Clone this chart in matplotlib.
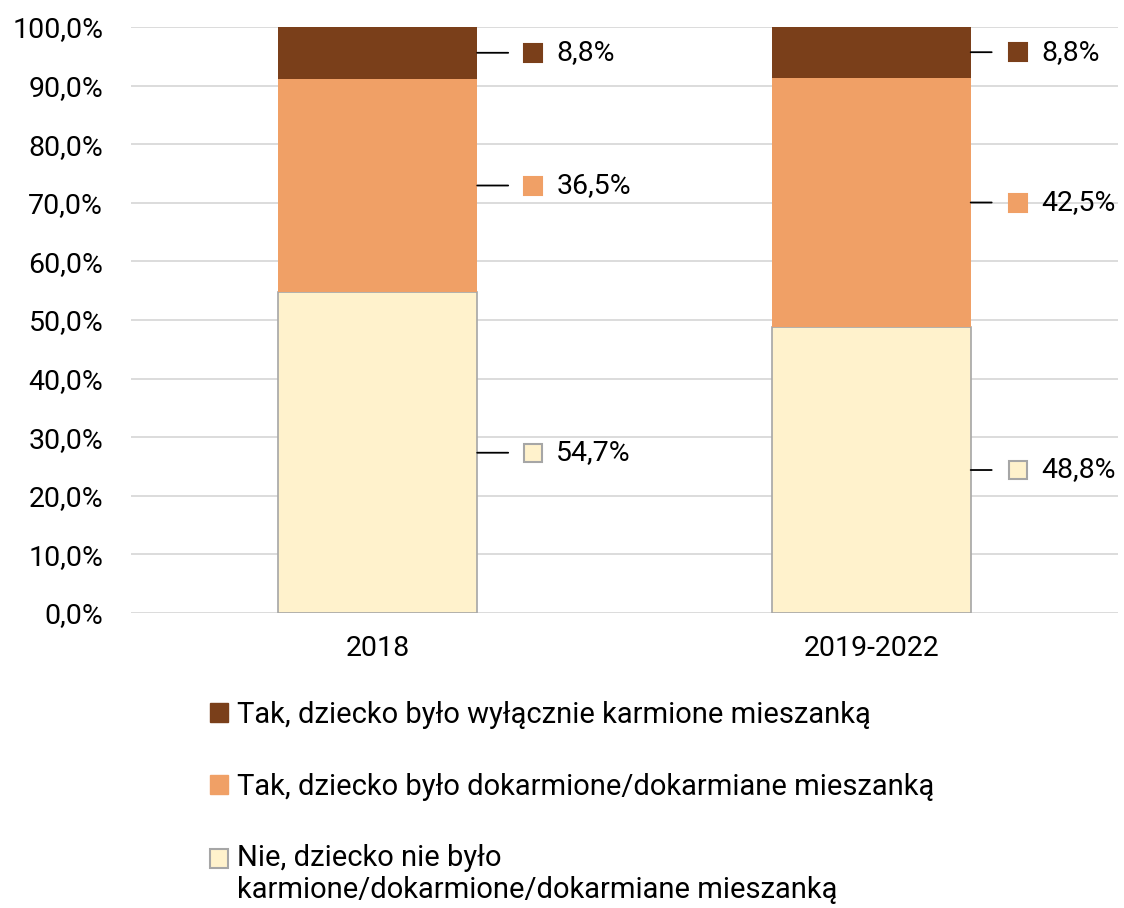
import matplotlib.pyplot as plt
import matplotlib
from matplotlib.patches import Patch
from matplotlib.legend_handler import HandlerPatch
from matplotlib.transforms import offset_copy
import numpy as np

matplotlib.use("Agg")
plt.rcParams['font.family'] = ['Roboto', 'DejaVu Sans']

categories = ["2018", "2019-2022"]
nie = [54.7, 48.8]
dokarmione = [36.5, 42.5]
wylacznie = [8.8, 8.8]

labels = [
    "Tak, dziecko było wyłącznie karmione mieszanką",
    "Tak, dziecko było dokarmione/dokarmiane mieszanką",
    "Nie, dziecko nie było\nkarmione/dokarmione/dokarmiane mieszanką",
]

c_dark = '#7A3F1A'
c_orange = '#F0A066'
c_cream = '#FFF2CC'
c_edge = '#A6A6A6'


class UpHandler(HandlerPatch):
    # moves the key square up so it sits next to the first text line
    def __init__(self, dy, **kw):
        super().__init__(**kw)
        self.dy = dy

    def create_artists(self, legend, orig_handle, xdescent, ydescent,
                       width, height, fontsize, trans):
        return super().create_artists(legend, orig_handle, xdescent,
                                      ydescent - self.dy, width, height,
                                      fontsize, trans)


fig = plt.figure(figsize=(11.24, 9.08), dpi=100)
ax = fig.add_axes([131 / 1124, 1 - 613 / 908, 987 / 1124, 586 / 908])

x = np.arange(len(categories))
w = 0.403
top_bottom = np.array(nie) + np.array(dokarmione)
ax.bar(x, nie, w, color=c_cream, edgecolor=c_edge, linewidth=1.2, zorder=3)
ax.bar(x, dokarmione, w, bottom=nie, color=c_orange, zorder=3)
ax.bar(x, wylacznie, w, bottom=top_bottom, color=c_dark, zorder=3)

ax.set_ylim(0, 100)
ax.set_xlim(-0.5, 1.5)
ax.set_yticks(np.arange(0, 101, 10))
ax.set_yticklabels([f"{v:.1f}%".replace('.', ',') for v in np.arange(0, 101, 10)])
ax.set_xticks(x)
ax.set_xticklabels(categories)
ax.tick_params(axis='both', length=0, labelsize=20.5, colors='black')
ax.tick_params(axis='x', pad=16)
ax.tick_params(axis='y', pad=20)
ax.grid(axis='y', color='#D9D9D9', linewidth=1.3, zorder=0)
for s in ax.spines.values():
    s.set_visible(False)

# data labels: leader line, small key square, value
offsets = {0: (31, 56, 79), 1: (21, 47, 71)}
series = [
    (nie, [0, 0], c_cream, c_edge),
    (dokarmione, nie, c_orange, c_orange),
    (wylacznie, list(top_bottom), c_dark, c_dark),
]
for vals, bottoms, fc, ec in series:
    for i in range(len(categories)):
        yc = min(bottoms[i] + vals[i] / 2, 100)
        xe = x[i] + w / 2
        ln, mk, tx = offsets[i]
        ax.annotate('', xy=(xe, yc), xytext=(ln, 0), textcoords='offset pixels',
                    arrowprops=dict(arrowstyle='-', color='black', lw=1.3,
                                    shrinkA=0, shrinkB=0), annotation_clip=False)
        tr = offset_copy(ax.transData, fig=fig, x=mk, y=0, units='dots')
        ax.plot([xe], [yc], marker='s', ms=12.5, mfc=fc, mec=ec, mew=1.5,
                transform=tr, clip_on=False, zorder=5)
        ax.annotate(f"{vals[i]:.1f}%".replace('.', ','), xy=(xe, yc),
                    xytext=(tx, 0), textcoords='offset pixels',
                    va='center', ha='left', fontsize=20.5, annotation_clip=False)

handles = [
    Patch(facecolor=c_dark, edgecolor=c_dark),
    Patch(facecolor=c_orange, edgecolor=c_orange),
    Patch(facecolor=c_cream, edgecolor=c_edge, linewidth=1.5),
]
leg = fig.legend(handles, labels, loc='upper left',
                 bbox_to_anchor=(210 / 1124, 1 - 701 / 908),
                 frameon=False, fontsize=21, handlelength=0.62, handleheight=0.62,
                 handletextpad=0.31, labelspacing=1.5, borderpad=0, borderaxespad=0,
                 handler_map={handles[2]: UpHandler(dy=12)})
leg.get_texts()[2].set_linespacing(1.15)

fig.savefig("out.png", dpi=100)
